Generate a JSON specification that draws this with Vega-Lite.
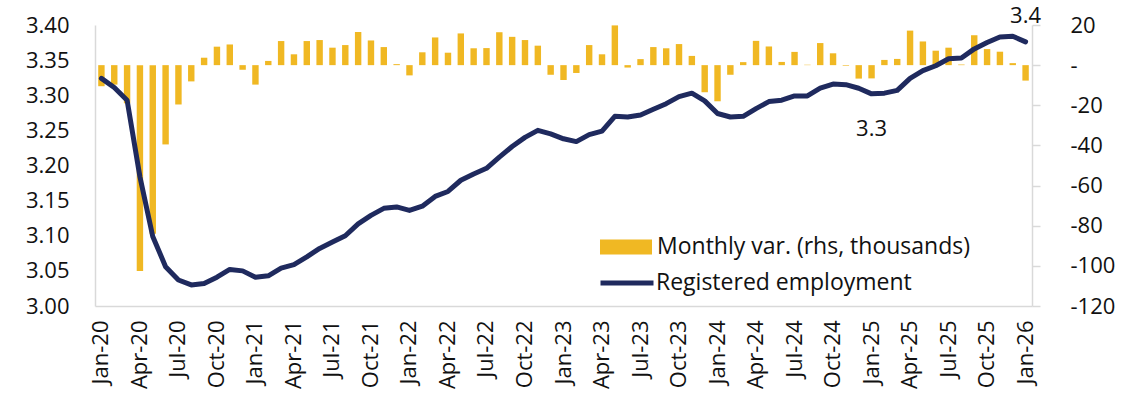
{
  "$schema": "https://vega.github.io/schema/vega-lite/v6.json",
  "width": 937,
  "height": 281,
  "autosize": {"type": "none"},
  "padding": {"left": 95, "top": 25, "right": 102, "bottom": 94},
  "background": "white",
  "config": {
    "font": "Open Sans",
    "view": {"stroke": null},
    "axis": {"grid": false, "labelFont": "Open Sans", "labelFontSize": 22, "labelColor": "#111111", "domainColor": "#d9d9d9", "domainWidth": 1.5, "tickColor": "#d9d9d9", "tickWidth": 1.5, "title": null},
    "legend": {"labelFont": "Open Sans", "labelFontSize": 23, "labelColor": "#111111", "padding": 0, "labelOffset": 5, "labelLimit": 500}
  },
  "data": {"values": [
    {"m": "Jan-20", "v": -10.5, "e": 3.324},
    {"m": "Feb-20", "v": -9.7, "e": 3.311},
    {"m": "Mar-20", "v": -19, "e": 3.293},
    {"m": "Apr-20", "v": -102.5, "e": 3.184},
    {"m": "May-20", "v": -84, "e": 3.099},
    {"m": "Jun-20", "v": -39.5, "e": 3.056},
    {"m": "Jul-20", "v": -19.6, "e": 3.037},
    {"m": "Aug-20", "v": -8.1, "e": 3.030},
    {"m": "Sep-20", "v": 3.7, "e": 3.032},
    {"m": "Oct-20", "v": 9.2, "e": 3.041},
    {"m": "Nov-20", "v": 10.3, "e": 3.052},
    {"m": "Dec-20", "v": -2.3, "e": 3.050},
    {"m": "Jan-21", "v": -9.7, "e": 3.041},
    {"m": "Feb-21", "v": 2.1, "e": 3.043},
    {"m": "Mar-21", "v": 12, "e": 3.054},
    {"m": "Apr-21", "v": 5.4, "e": 3.059},
    {"m": "May-21", "v": 12, "e": 3.070},
    {"m": "Jun-21", "v": 12.5, "e": 3.082},
    {"m": "Jul-21", "v": 8.7, "e": 3.091},
    {"m": "Aug-21", "v": 10, "e": 3.100},
    {"m": "Sep-21", "v": 16.5, "e": 3.117},
    {"m": "Oct-21", "v": 12.3, "e": 3.129},
    {"m": "Nov-21", "v": 9, "e": 3.139},
    {"m": "Dec-21", "v": 0.5, "e": 3.141},
    {"m": "Jan-22", "v": -5.1, "e": 3.136},
    {"m": "Feb-22", "v": 6.4, "e": 3.142},
    {"m": "Mar-22", "v": 13.8, "e": 3.156},
    {"m": "Apr-22", "v": 6.2, "e": 3.163},
    {"m": "May-22", "v": 15.8, "e": 3.179},
    {"m": "Jun-22", "v": 8.4, "e": 3.188},
    {"m": "Jul-22", "v": 8.5, "e": 3.196},
    {"m": "Aug-22", "v": 16.4, "e": 3.212},
    {"m": "Sep-22", "v": 14.1, "e": 3.227},
    {"m": "Oct-22", "v": 12.5, "e": 3.240},
    {"m": "Nov-22", "v": 9.7, "e": 3.250},
    {"m": "Dec-22", "v": -4.8, "e": 3.245},
    {"m": "Jan-23", "v": -7.4, "e": 3.238},
    {"m": "Feb-23", "v": -3.9, "e": 3.234},
    {"m": "Mar-23", "v": 10, "e": 3.244},
    {"m": "Apr-23", "v": 5.4, "e": 3.249},
    {"m": "May-23", "v": 19.8, "e": 3.270},
    {"m": "Jun-23", "v": -1.2, "e": 3.269},
    {"m": "Jul-23", "v": 3, "e": 3.272},
    {"m": "Aug-23", "v": 9, "e": 3.280},
    {"m": "Sep-23", "v": 8.4, "e": 3.288},
    {"m": "Oct-23", "v": 10.5, "e": 3.298},
    {"m": "Nov-23", "v": 4.6, "e": 3.303},
    {"m": "Dec-23", "v": -13.5, "e": 3.292},
    {"m": "Jan-24", "v": -18, "e": 3.274},
    {"m": "Feb-24", "v": -4.8, "e": 3.269},
    {"m": "Mar-24", "v": 1.5, "e": 3.270},
    {"m": "Apr-24", "v": 12.1, "e": 3.281},
    {"m": "May-24", "v": 9.3, "e": 3.291},
    {"m": "Jun-24", "v": 1.6, "e": 3.293},
    {"m": "Jul-24", "v": 6.6, "e": 3.299},
    {"m": "Aug-24", "v": 0.2, "e": 3.299},
    {"m": "Sep-24", "v": 11, "e": 3.310},
    {"m": "Oct-24", "v": 5.9, "e": 3.316},
    {"m": "Nov-24", "v": -0.3, "e": 3.315},
    {"m": "Dec-24", "v": -6.7, "e": 3.310},
    {"m": "Jan-25", "v": -6.6, "e": 3.302, "lab": "3.3"},
    {"m": "Feb-25", "v": 2.6, "e": 3.303},
    {"m": "Mar-25", "v": 3.1, "e": 3.307},
    {"m": "Apr-25", "v": 17.2, "e": 3.324},
    {"m": "May-25", "v": 11.8, "e": 3.335},
    {"m": "Jun-25", "v": 7.2, "e": 3.342},
    {"m": "Jul-25", "v": 8.7, "e": 3.352},
    {"m": "Aug-25", "v": 0.3, "e": 3.353},
    {"m": "Sep-25", "v": 14.9, "e": 3.366},
    {"m": "Oct-25", "v": 8, "e": 3.375},
    {"m": "Nov-25", "v": 6.7, "e": 3.383},
    {"m": "Dec-25", "v": 1, "e": 3.384},
    {"m": "Jan-26", "v": -7.7, "e": 3.376, "lab": "3.4"}
  ]},
  "layer": [
    {
      "mark": {"type": "bar"},
      "encoding": {
        "x": {"field": "m", "type": "ordinal", "sort": null,
          "scale": {"paddingInner": 0.5, "paddingOuter": 0.25},
          "axis": {"values": ["Jan-20","Apr-20","Jul-20","Oct-20","Jan-21","Apr-21","Jul-21","Oct-21","Jan-22","Apr-22","Jul-22","Oct-22","Jan-23","Apr-23","Jul-23","Oct-23","Jan-24","Apr-24","Jul-24","Oct-24","Jan-25","Apr-25","Jul-25","Oct-25","Jan-26"],
            "labelAngle": -90, "ticks": false, "labelPadding": 14, "labelAlign": "right", "labelBaseline": "middle"}},
        "y": {"field": "v", "type": "quantitative",
          "scale": {"domain": [-120, 20], "nice": false, "zero": false},
          "axis": {"orient": "right", "values": [-120,-100,-80,-60,-40,-20,0,20], "tickSize": 8, "labelPadding": 30, "labelAlign": "left",
            "labelExpr": "datum.value == 0 ? '  -' : (datum.value > 0 ? ' ' + format(datum.value, 'd') : '-' + format(-datum.value, 'd'))"}},
        "color": {"datum": "Monthly var. (rhs, thousands)", "type": "nominal",
          "scale": {"range": ["#F0B823"]},
          "legend": {"orient": "none", "legendX": 505, "legendY": 196, "title": null, "symbolType": "M-1,-0.29H1V0.29H-1Z", "symbolSize": 2704, "symbolStrokeWidth": 0}}
      }
    },
    {
      "mark": {"type": "line", "strokeWidth": 5, "strokeCap": "round", "strokeJoin": "round"},
      "encoding": {
        "x": {"field": "m", "type": "ordinal", "sort": null},
        "y": {"field": "e", "type": "quantitative",
          "scale": {"domain": [3.0, 3.4], "nice": false, "zero": false},
          "axis": {"orient": "left", "values": [3.0,3.05,3.1,3.15,3.2,3.25,3.3,3.35,3.4], "format": ".2f", "ticks": false, "labelPadding": 26}},
        "color": {"datum": "Registered employment", "type": "nominal",
          "scale": {"range": ["#1F2A5E"]},
          "legend": {"orient": "none", "legendX": 503, "legendY": 229, "title": null, "symbolType": "stroke", "symbolSize": 2809, "symbolStrokeWidth": 5, "labelOffset": 0}}
      }
    },
    {
      "transform": [{"filter": "datum.lab == '3.4'"}],
      "mark": {"type": "text", "fontSize": 22, "color": "#111111", "dy": -26, "baseline": "middle", "align": "center"},
      "encoding": {
        "x": {"field": "m", "type": "ordinal", "sort": null},
        "y": {"field": "e", "type": "quantitative", "scale": {"domain": [3.0, 3.4], "nice": false, "zero": false}, "axis": null},
        "text": {"field": "lab"}
      }
    },
    {
      "transform": [{"filter": "datum.lab == '3.3'"}],
      "mark": {"type": "text", "fontSize": 22, "color": "#111111", "dy": 35, "baseline": "middle", "align": "center"},
      "encoding": {
        "x": {"field": "m", "type": "ordinal", "sort": null},
        "y": {"field": "e", "type": "quantitative", "scale": {"domain": [3.0, 3.4], "nice": false, "zero": false}, "axis": null},
        "text": {"field": "lab"}
      }
    }
  ],
  "resolve": {"scale": {"y": "independent", "color": "independent"}}
}
